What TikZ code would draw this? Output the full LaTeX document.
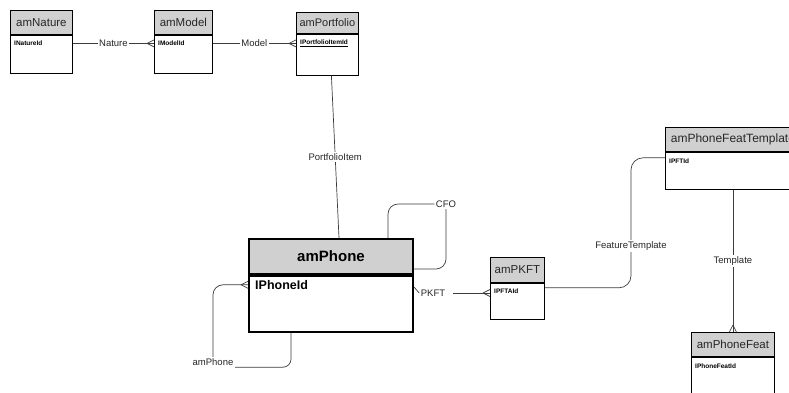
\documentclass[tikz,border=0pt]{standalone}
\usepackage{fontspec}
\setmainfont{Liberation Sans}
\definecolor{headgray}{RGB}{208,208,208}
\definecolor{linegray}{RGB}{60,60,60}
\tikzset{
  ehead/.style={draw=black, line width=0.8pt, fill=headgray, inner sep=0pt, anchor=north west, text=black!85, font=\fontsize{11.5}{12}\selectfont},
  ebody/.style={draw=black, line width=0.8pt, fill=white, inner sep=0pt, anchor=north west},
  eid/.style={anchor=north west, inner sep=0pt, font=\fontsize{6.5}{7}\selectfont\bfseries},
  lab/.style={fill=white, inner sep=1.5pt, text=black!85, font=\fontsize{9.5}{10}\selectfont},
  conn/.style={draw=linegray, line width=0.7pt},
  crow/.pic={\draw[conn] (-7,0) -- (0,-3.5) (-7,0) -- (0,3.5);}
}
\begin{document}
\begin{tikzpicture}[x=1pt,y=-1pt]
\useasboundingbox (0,0) rectangle (789,392);
\clip (0,0) rectangle (789,392);

% entities
\node[ehead, minimum width=62pt, minimum height=24pt] (natureH) at (10,10) {amNature};
\node[ebody, minimum width=62pt, minimum height=38pt] (natureB) at (natureH.south west) {};
\node[eid] (natureId) at ([xshift=4pt,yshift=-6pt]natureB.north west) {INatureId};

\node[ehead, minimum width=58pt, minimum height=24pt] (modelH) at (154,10) {amModel};
\node[ebody, minimum width=58pt, minimum height=38pt] (modelB) at (modelH.south west) {};
\node[eid] (modelId) at ([xshift=4pt,yshift=-6pt]modelB.north west) {IModelId};

\node[ehead, minimum width=62pt, minimum height=21pt, font=\fontsize{11}{12}\selectfont] (portH) at (296,12) {amPortfolio};
\node[ebody, minimum width=62pt, minimum height=41pt] (portB) at (portH.south west) {};
\node[eid] (portId) at ([xshift=4pt,yshift=-6pt]portB.north west) {\underline{IPortfolioItemId}};

\node[ehead, line width=2pt, minimum width=164pt, minimum height=35pt, font=\fontsize{15}{16}\selectfont\bfseries, text=black] (phoneH) at (248,238) {amPhone};
\node[ebody, line width=2pt, minimum width=164pt, minimum height=56pt] (phoneB) at (phoneH.south west) {};
\node[eid, font=\fontsize{12.5}{13}\selectfont\bfseries] (phoneId) at ([xshift=7pt,yshift=-5pt]phoneB.north west) {IPhoneId};

\node[ehead, minimum width=54pt, minimum height=25pt] (pkftH) at (490,257) {amPKFT};
\node[ebody, minimum width=54pt, minimum height=36pt] (pkftB) at (pkftH.south west) {};
\node[eid] (pkftId) at ([xshift=4pt,yshift=-6pt]pkftB.north west) {IPFTAId};

\node[ehead, minimum width=135pt, minimum height=24pt, font=\fontsize{12}{13}\selectfont] (ptH) at (665,127) {amPhoneFeatTemplate};
\node[ebody, minimum width=135pt, minimum height=37pt] (ptB) at (ptH.south west) {};
\node[eid] (ptId) at ([xshift=4pt,yshift=-7pt]ptB.north west) {IPFTId};

\node[ehead, minimum width=83pt, minimum height=24pt] (pfH) at (691,332) {amPhoneFeat};
\node[ebody, minimum width=83pt, minimum height=50pt] (pfB) at (pfH.south west) {};
\node[eid] (pfId) at ([xshift=4pt,yshift=-7pt]pfB.north west) {IPhoneFeatId};

% relations
\draw[conn] (natureB.east |- natureId) -- node[lab]{Nature} (modelB.west |- natureId);
\pic at (modelB.west |- natureId) {crow};
\draw[conn] (modelB.east |- modelId) -- node[lab]{Model} (portB.west |- modelId);
\pic at (portB.west |- modelId) {crow};

\draw[conn] ([xshift=4pt]portB.south) -- node[lab]{PortfolioItem} ([xshift=8pt]phoneH.north);

\node[lab] (cfo) at (446,204) {CFO};
\draw[conn, rounded corners=10pt] ([xshift=-26pt]phoneH.north east) |- (cfo.west);
\draw[conn, rounded corners=10pt] (cfo.south) |- ([yshift=6pt]phoneH.south east);

\node[lab] (pkft) at (433,293) {PKFT};
\draw[conn] ([yshift=-12pt]phoneH.south east) -- (pkft.west);
\draw[conn] ([xshift=6pt]pkft.east) -- (pkftB.west |- pkft);
\pic at (pkftB.west |- pkft) {crow};

\coordinate (ftx) at (631,220);
\draw[conn, rounded corners=12pt] ([yshift=-5pt]pkftB.north east) -| (ftx) |- ([yshift=-6pt]ptB.north west);
\node[lab] (ftLab) at (631,246) {FeatureTemplate};

\draw[conn] (pfH.north |- ptB.south) -- node[lab]{Template} (pfH.north);
\pic[rotate=-90] at (pfH.north) {crow};

\node[lab] (amph) at (213,362) {amPhone};
\draw[conn, rounded corners=10pt] (phoneB.west |- phoneId) -| (amph.north);
\pic at (phoneB.west |- phoneId) {crow};
\draw[conn, rounded corners=8pt] (amph.south east) -| ([xshift=43pt]phoneB.south west);

\end{tikzpicture}
\end{document}
